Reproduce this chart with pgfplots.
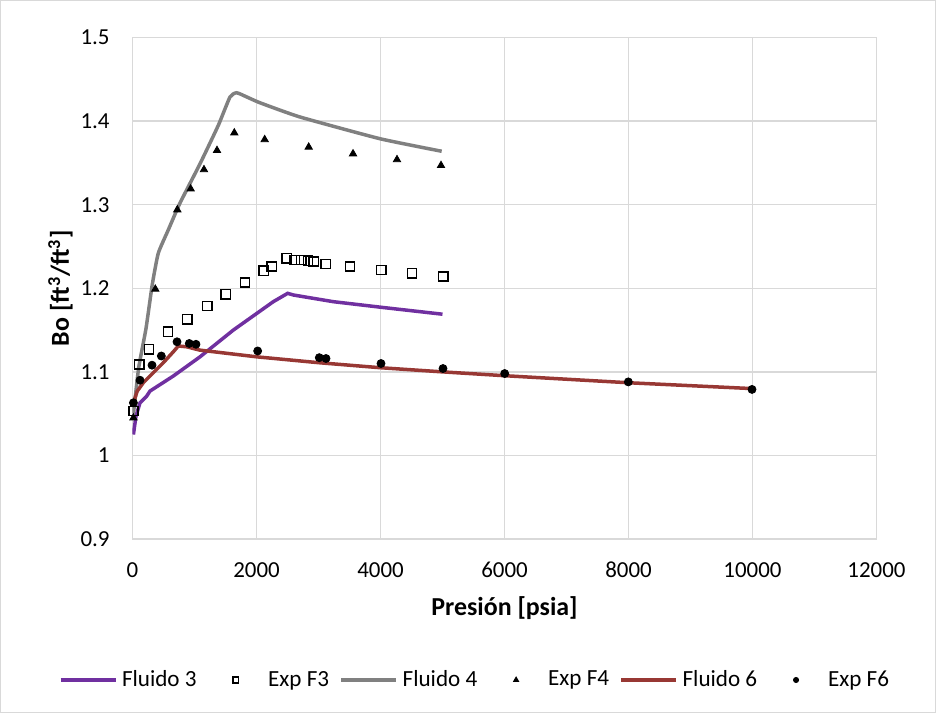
\documentclass[border=0pt]{standalone}
\usepackage{fontspec}
\setmainfont{Carlito}
\usepackage{pgfplots}
\pgfplotsset{compat=1.18}

\definecolor{gridgray}{RGB}{217,217,217}
\definecolor{fluidoA}{RGB}{112,48,160}
\definecolor{fluidoB}{RGB}{128,128,128}
\definecolor{fluidoC}{RGB}{152,56,52}

% legend pictures: a 27.5bp line for curves, a small centred mark for measured points
\pgfplotsset{
  linelegend/.style={legend image code/.code={%
    \draw[mark repeat=2,mark phase=2] plot coordinates {(0bp,0bp) (13.75bp,0bp) (27.5bp,0bp)};}},
  marklegend/.style={legend image code/.code={%
    \path (0bp,0bp) (27.5bp,0bp);
    \draw[mark size=#1] plot coordinates {(14bp,0bp)};}},
}

\begin{document}
\begin{tikzpicture}
\begin{axis}[
  at={(0,0)}, anchor=south west,
  scale only axis,
  width=372bp, height=250.7bp,
  xmin=0, xmax=12000, ymin=0.9, ymax=1.5,
  xtick={0,2000,...,12000},
  ytick={0.9,1.0,...,1.5},
  scaled x ticks=false,
  grid=major,
  major grid style={gridgray, line width=0.75bp},
  axis line style={gridgray, line width=0.75bp},
  major tick length=0pt,
  /pgf/number format/assume math mode=true,
  /pgf/number format/1000 sep={},
  tick label style={font=\fontsize{11.5}{13}\selectfont},
  xticklabel style={anchor=center, yshift=-15.5bp},
  yticklabel style={anchor=east, inner sep=0pt, xshift=-11.25bp},
  xlabel={Presión [psia]},
  ylabel={Bo [ft\textsuperscript{3}/ft\textsuperscript{3}]},
  every axis x label/.style={at={(axis description cs:0.5,-0.1376)}, anchor=center,
    font=\fontsize{13}{15}\selectfont\bfseries},
  every axis y label/.style={at={(axis description cs:-0.0968,0.5)}, rotate=90, anchor=center,
    font=\fontsize{13}{15}\selectfont\bfseries},
  legend columns=6,
  legend cell align=left,
  legend style={draw=none, fill=none, inner sep=0pt,
    at={(axis description cs:0.459,-0.2812)}, anchor=center,
    font=\fontsize{11.6}{13}\selectfont,
    nodes={inner sep=0pt},
    /tikz/every odd column/.append style={column sep=2.3bp},
    /tikz/every even column/.append style={column sep=5.2bp}},
]

% Fluido 3 (model)
\addplot[fluidoA, line width=1.75bp, no marks, linelegend] coordinates {
  (15,1.025) (56,1.047) (121,1.063) (229,1.071) (282,1.077) (658,1.095)
  (1089,1.118) (1626,1.150) (2271,1.184) (2503,1.194) (2594,1.192)
  (3239,1.184) (4045,1.177) (5000,1.169)};
\addlegendentry{Fluido 3}

% Exp F3
\addplot[only marks, mark=square, mark size=2.3bp, black, line width=0.75bp, marklegend=1.4bp] coordinates {
  (15,1.053) (110,1.109) (266,1.127) (573,1.148) (884,1.163) (1207,1.179)
  (1503,1.193) (1815,1.207) (2116,1.221) (2245,1.226) (2487,1.236)
  (2616,1.234) (2723,1.234) (2831,1.233) (2922,1.232) (3116,1.229)
  (3508,1.226) (4013,1.222) (4508,1.218) (5013,1.214)};
\addlegendentry{Exp F3}

% Fluido 4 (model)
\addplot[fluidoB, line width=1.75bp, no marks, smooth, tension=0.3, linelegend] coordinates {
  (15,1.050) (100,1.105) (218,1.152) (320,1.205) (416,1.242) (578,1.270)
  (766,1.302) (1089,1.349) (1384,1.395) (1573,1.429) (1680,1.434)
  (1842,1.429) (2057,1.422) (2702,1.405) (3992,1.379) (4987,1.364)};
\addlegendentry{Fluido 4}

% Exp F4
\addplot[only marks, mark=triangle*, mark size=2.1bp, black, marklegend=1.5bp] coordinates {
  (15,1.045) (368,1.199) (723,1.294) (938,1.319) (1153,1.342) (1363,1.365)
  (1642,1.386) (2132,1.378) (2842,1.369) (3557,1.361) (4266,1.354) (4976,1.347)};
\addlegendentry{Exp F4}

% Fluido 6 (model)
\addplot[fluidoC, line width=1.75bp, no marks, linelegend] coordinates {
  (15,1.063) (77,1.077) (174,1.087) (335,1.099) (497,1.111) (658,1.124)
  (739,1.131) (874,1.130) (1089,1.126) (2003,1.118) (3000,1.111)
  (3992,1.105) (5000,1.100) (5981,1.0955) (7997,1.087) (9992,1.080)};
\addlegendentry{Fluido 6}

% Exp F6
\addplot[only marks, mark=*, mark size=2.0bp, black, marklegend=1.3bp] coordinates {
  (15,1.063) (121,1.090) (315,1.108) (465,1.119) (718,1.136) (916,1.134)
  (1024,1.133) (2019,1.125) (3013,1.117) (3121,1.116) (4008,1.110)
  (5008,1.104) (6003,1.098) (7997,1.088) (9992,1.079)};
\addlegendentry{Exp F6}

\end{axis}
\pgfresetboundingbox
\path[use as bounding box] (-66.25bp,-87bp) rectangle (401.75bp,269.5bp);
\draw[gridgray, line width=0.75bp] (-65.875bp,-86.625bp) rectangle (401.375bp,269.125bp);
\end{tikzpicture}
\end{document}
